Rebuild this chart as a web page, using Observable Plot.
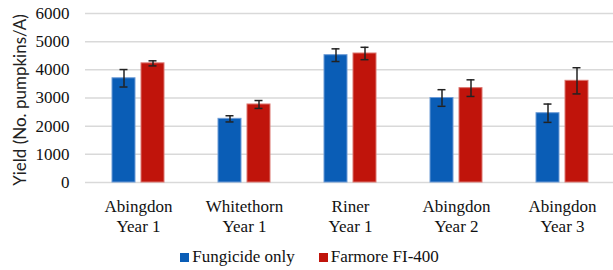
<!DOCTYPE html>
<html>
<head>
<meta charset="utf-8">
<script src="https://cdn.jsdelivr.net/npm/d3@7"></script>
<script src="https://cdn.jsdelivr.net/npm/@observablehq/plot@0.6"></script>
<style>
  html, body { margin: 0; padding: 0; background: #fff; }
  #wrap { position: relative; width: 613px; height: 270px; overflow: hidden; }
  .lg { position: absolute; left: 0; top: 247px; width: 613px; display: flex; justify-content: center;
    font-size: 17px; color: #111; padding-left: 6px; box-sizing: border-box; line-height: 20px; }
  .item { display: flex; align-items: center; margin-right: 24px; }
  .item:last-child { margin-right: 0; }
  .sw { width: 9px; height: 9px; margin-right: 3px; }
  .ylab { position: absolute; left: 19px; top: 100px; transform: translate(-50%, -50%) rotate(-90deg);
    white-space: nowrap; font-size: 17px; color: #222; line-height: 17px; }
</style>
</head>
<body>
<div id="wrap"></div>
<script>
const sites = ["Abingdon\nYear 1", "Whitethorn\nYear 1", "Riner\nYear 1", "Abingdon\nYear 2", "Abingdon\nYear 3"];
const series = ["Fungicide only", "Farmore FI-400"];
const fungicide = [3700, 2260, 4520, 3000, 2460];
const fungicideErr = [310, 110, 225, 295, 325];
const farmore = [4230, 2770, 4580, 3350, 3610];
const farmoreErr = [90, 140, 220, 295, 465];
const yTicks = [0, 1000, 2000, 3000, 4000, 5000, 6000];
const yLabel = "Yield (No. pumpkins/A)";
const colors = ["#0a5db6", "#c0140b"];
const strokes = ["#6d9bd6", "#dc7670"];
const serif = "Liberation Serif";

const data = [];
sites.forEach((s, i) => {
  data.push({site: s, series: series[0], value: fungicide[i], lo: fungicide[i] - fungicideErr[i], hi: fungicide[i] + fungicideErr[i]});
  data.push({site: s, series: series[1], value: farmore[i], lo: farmore[i] - farmoreErr[i], hi: farmore[i] + farmoreErr[i]});
});

const chart = Plot.plot({
  width: 613,
  height: 240,
  marginLeft: 83,
  marginRight: -3,
  marginTop: 13,
  marginBottom: 58,
  style: "font-family: 'Liberation Serif'; font-size: 17px; color: #111; background: #fff;",
  fx: {domain: sites, padding: 0, label: null},
  x: {domain: series, paddingInner: 0.2, paddingOuter: 0.877, axis: null},
  y: {domain: [0, 6000]},
  color: {domain: series, range: colors},
  marks: [
    Plot.ruleY(yTicks, {stroke: "#d9d9d9", strokeWidth: 1.5}),
    Plot.barY(data, {fx: "site", x: "series", y: "value", fill: "series",
      stroke: d => strokes[series.indexOf(d.series)], strokeWidth: 1}),
    Plot.ruleX(data, {fx: "site", x: "series", y1: "lo", y2: "hi", stroke: "#222", strokeWidth: 1.5}),
    Plot.tickY(data, {fx: "site", x: "series", y: "lo", stroke: "#222", strokeWidth: 1.5, insetLeft: 7.5, insetRight: 7.5}),
    Plot.tickY(data, {fx: "site", x: "series", y: "hi", stroke: "#222", strokeWidth: 1.5, insetLeft: 7.5, insetRight: 7.5}),
    Plot.axisY({ticks: yTicks, tickSize: 0, tickPadding: 16, tickFormat: d => String(d), label: null,
      fontFamily: serif, fontSize: 17}),
    Plot.axisFx({anchor: "bottom", tickSize: 0, tickPadding: 15, lineHeight: 1.18, label: null,
      fontFamily: serif, fontSize: 17})
  ]
});
const wrap = document.getElementById("wrap");
wrap.appendChild(chart);

const yl = document.createElement("div");
yl.className = "ylab";
yl.style.fontFamily = "Lato";
yl.textContent = yLabel;
wrap.appendChild(yl);

const legend = document.createElement("div");
legend.className = "lg";
legend.style.fontFamily = serif;
series.forEach((s, i) => {
  const it = document.createElement("div");
  it.className = "item";
  const sw = document.createElement("div");
  sw.className = "sw";
  sw.style.background = colors[i];
  const t = document.createElement("span");
  t.textContent = s;
  t.style.fontFamily = serif;
  it.appendChild(sw);
  it.appendChild(t);
  legend.appendChild(it);
});
wrap.appendChild(legend);
</script>
</body>
</html>
